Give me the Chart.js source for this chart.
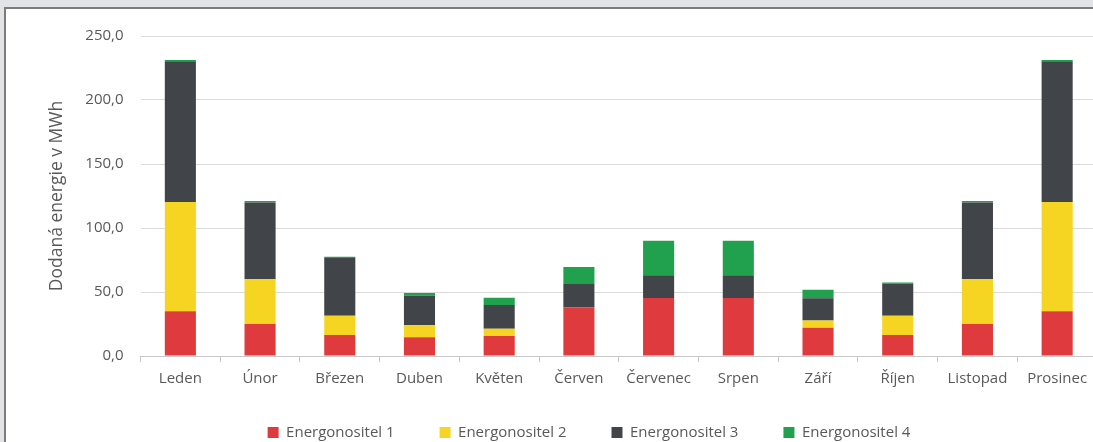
<!DOCTYPE html>
<html><head><meta charset="utf-8">
<script src="https://cdn.jsdelivr.net/npm/chart.js@4.4.0/dist/chart.umd.min.js"></script>
<style>
html,body{margin:0;padding:0;width:1093px;height:442px;overflow:hidden;background:#e2e3e5;}
#panel{position:absolute;left:4px;top:7px;width:1200px;height:500px;background:#fff;border:2px solid #7c7c7c;box-sizing:border-box;}
#wrap{position:absolute;left:0;top:0;width:1174px;height:450px;}
</style></head><body>
<div id="panel"></div>
<div id="wrap"><canvas id="c"></canvas></div>
<script>
const categories = ['Leden','Únor','Březen','Duben','Květen','Červen','Červenec','Srpen','Září','Říjen','Listopad','Prosinec'];
const seriesNames = ['Energonositel 1','Energonositel 2','Energonositel 3','Energonositel 4'];
const energonositel1 = [35, 25, 16.5, 14.6, 15.6, 38, 45.3, 45.3, 22, 16.5, 25, 35];
const energonositel2 = [85.3, 35, 15, 9.4, 5.7, 0, 0, 0, 5.7, 15, 35, 85.3];
const energonositel3 = [110, 60, 45, 23, 18.5, 18.2, 17.7, 17.7, 17.5, 25, 60, 110];
const energonositel4 = [1, 1, 1, 2.3, 5.8, 13.3, 27, 27, 6.5, 1, 1, 1];
const yTickLabels = ['0,0','50,0','100,0','150,0','200,0','250,0'];
const colors = ['#df3b3e','#f5d521','#414448','#21a04e'];
const txt = '#595959';

const ds = [energonositel1, energonositel2, energonositel3, energonositel4].map((d,i)=>({
  label: seriesNames[i], data: d, backgroundColor: colors[i], borderWidth: 0,
  categoryPercentage: 1, barPercentage: 0.39, stack: 's'
}));

new Chart(document.getElementById('c'), {
  type: 'bar',
  data: { labels: categories, datasets: ds },
  options: {
    responsive: true, maintainAspectRatio: false, animation: false,
    layout: { padding: { top: 36, left: 4, right: 0, bottom: 0 } },
    plugins: {
      tooltip: { enabled: false },
      legend: {
        position: 'bottom',
        labels: { boxWidth: 11, boxHeight: 11, padding: 45, color: txt,
          font: { family: 'Open Sans', size: 15 } }
      }
    },
    scales: {
      x: {
        stacked: true,
        grid: { display: true, drawOnChartArea: false, drawTicks: true, tickLength: 6, color: '#c8c8c8' },
        border: { display: true, color: '#c8c8c8' },
        ticks: { color: txt, font: { family: 'Open Sans', size: 15 }, padding: 8, maxRotation: 0, autoSkip: false },
        afterFit(s) { s.height = 24; s._computeLabelArea = () => undefined; }
      },
      y: {
        stacked: true, min: 0, max: 250,
        grid: { color: '#d9d9d9', drawTicks: false },
        border: { display: false },
        ticks: { stepSize: 50, color: txt, padding: 17, font: { family: 'Open Sans', size: 15 },
          callback: (v, i) => yTickLabels[i] },
        title: { display: true, text: 'Dodaná energie v MWh', color: txt,
          font: { family: 'Open Sans', size: 17.5 }, padding: { top: 43, bottom: 0 } },
        afterFit(s) { s.width = 136.5; }
      },
      yR: {
        type: 'linear', position: 'right', display: true,
        grid: { display: false }, border: { display: false }, ticks: { display: false },
        afterFit(s) { s.width = 77; }
      }
    }
  }
});
</script>
</body></html>
